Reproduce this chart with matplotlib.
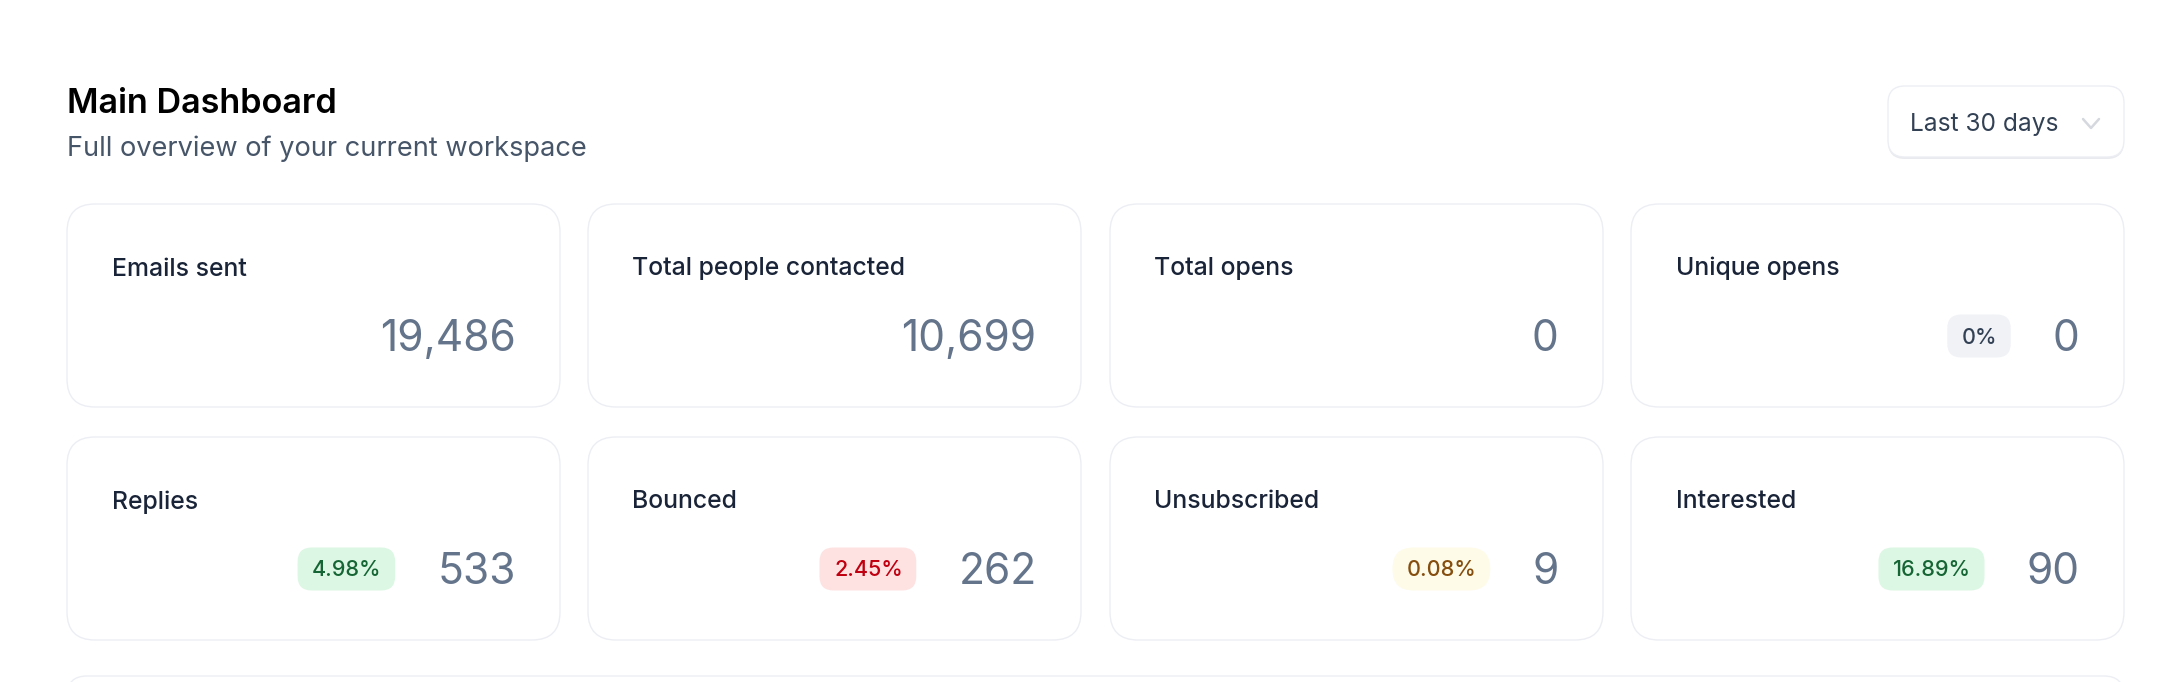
import matplotlib
matplotlib.use("Agg")
import matplotlib.pyplot as plt
from matplotlib.patches import FancyBboxPatch

plt.rcParams["font.family"] = ["Inter", "DejaVu Sans"]

title = "Main Dashboard"
subtitle = "Full overview of your current workspace"
range_label = "Last 30 days"

labels = ["Emails sent", "Total people contacted", "Total opens", "Unique opens",
          "Replies", "Bounced", "Unsubscribed", "Interested"]
values = ["19,486", "10,699", "0", "0", "533", "262", "9", "90"]
badges = [None, None, None, "0%", "4.98%", "2.45%", "0.08%", "16.89%"]
badge_kinds = [None, None, None, "gray", "green", "red", "yellow", "green"]

# background, text colour, corner radius
badge_styles = {
    "gray": ("#F1F2F6", "#334155", 14),
    "green": ("#DCF7E3", "#166534", 14),
    "red": ("#FEE2E2", "#C00010", 14),
    "yellow": ("#FEFBE8", "#854D0E", 21),
}

W, H = 2168, 682
card_w, card_h = 493, 203
card_x = [67, 588, 1110, 1631]
card_y = [204, 437]
border = "#ECEEF4"


def px(size):
    return size * 0.72


def box(ax, x0, y0, x1, y1, r, fc, ec="none", lw=1.0, z=1):
    p = FancyBboxPatch((x0 + r, y0 + r), x1 - x0 - 2 * r, y1 - y0 - 2 * r,
                       boxstyle=f"round,pad={r},rounding_size={r}",
                       fc=fc, ec=ec, lw=lw, zorder=z)
    ax.add_patch(p)
    return p


fig = plt.figure(figsize=(W / 100, H / 100), dpi=100, facecolor="white")
ax = fig.add_axes([0, 0, 1, 1])
ax.set_xlim(0, W)
ax.set_ylim(H, 0)
ax.axis("off")

ax.text(67, 113, title, fontsize=px(34.2), fontweight="semibold", color="#000000", va="baseline")
ax.text(67, 156.5, subtitle, fontsize=px(27.2), color="#475569", va="baseline")

# dropdown
box(ax, 1888, 88, 2124, 159, 17, "#E9EAEF", z=1)
box(ax, 1888, 86, 2124, 157, 17, "white", ec=border)
ax.text(1910, 131, range_label, fontsize=px(24.5), color="#334155", va="baseline")
ax.plot([2083, 2091, 2099], [119, 128, 119], color="#D5D8DE", lw=1.8, solid_capstyle="round", zorder=3)

renderer = fig.canvas.get_renderer()

for i, label in enumerate(labels):
    x = card_x[i % 4]
    y = card_y[i // 4]
    box(ax, x, y, x + card_w, y + card_h, 28, "white", ec=border)
    ax.text(x + 44.5, y + 71.5, label, fontsize=px(24.8), fontweight="medium", color="#1A2438", va="baseline", zorder=3)
    val = ax.text(x + card_w - 44.5, y + 147, values[i], fontsize=px(42.5), color="#64748B",
                  ha="right", va="baseline", zorder=3)
    if badges[i] is None:
        continue
    bg, fg, r = badge_styles[badge_kinds[i]]
    right = val.get_window_extent(renderer).x0 - 42
    txt = ax.text(right - 13.5, y + 139.5, badges[i], fontsize=px(21.6), fontweight="medium", color=fg,
                  ha="right", va="baseline", zorder=4)
    left = txt.get_window_extent(renderer).x0 - 14.5
    box(ax, left, y + 110.5, right, y + 153.5, r, bg, z=2)

# next panel, cut off by the bottom edge
box(ax, 67, 676, 2124, 780, 20, "white", ec=border)

fig.savefig("out.png", dpi=100)
